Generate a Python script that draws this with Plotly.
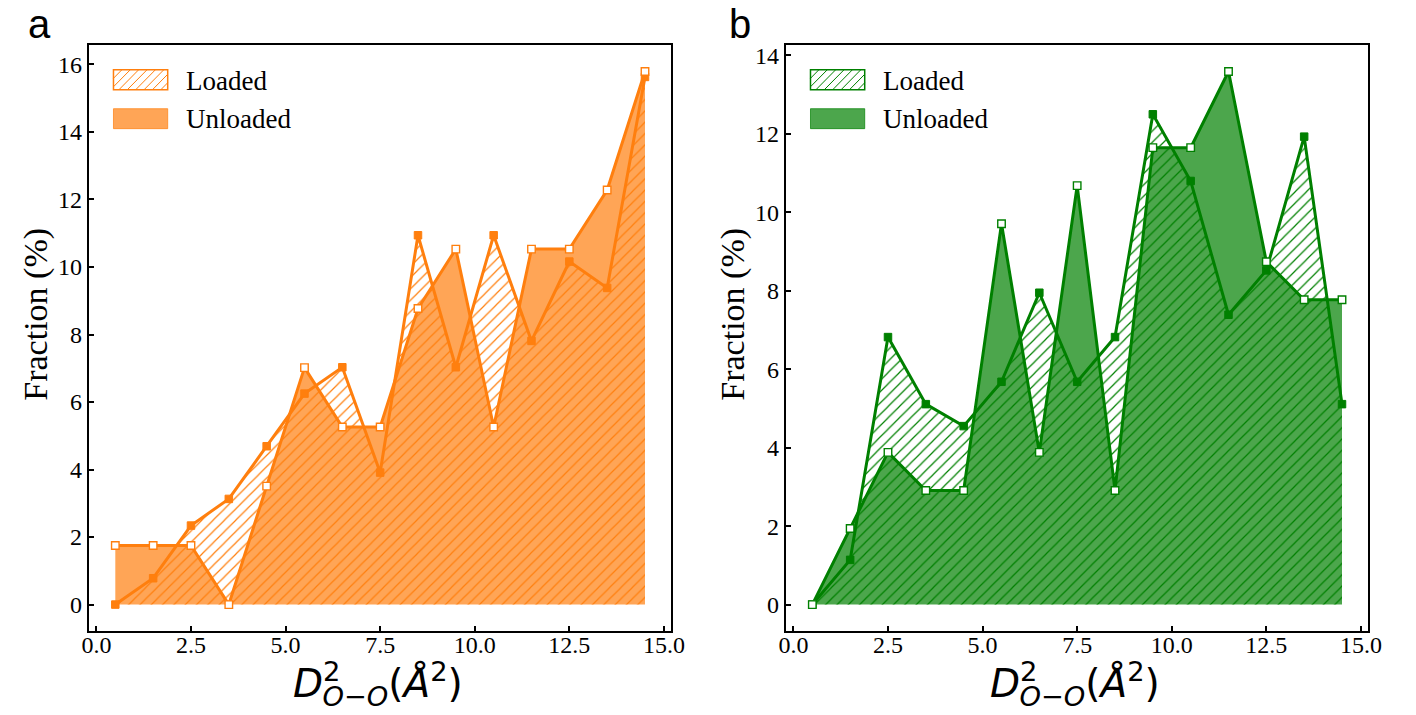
import plotly.graph_objects as go

W, H = 1416, 715

# ---------------- data ----------------
x_centers = [0.5, 1.5, 2.5, 3.5, 4.5, 5.5, 6.5, 7.5, 8.5, 9.5, 10.5, 11.5, 12.5, 13.5, 14.5]

a_loaded = [0.0, 0.78, 2.34, 3.13, 4.69, 6.25, 7.03, 3.91, 10.94, 7.03, 10.94, 7.81, 10.16, 9.38, 15.63]
a_unloaded = [1.75, 1.75, 1.75, 0.0, 3.51, 7.02, 5.26, 5.26, 8.77, 10.53, 5.26, 10.53, 10.53, 12.28, 15.79]

b_loaded = [0.0, 1.14, 6.82, 5.11, 4.55, 5.68, 7.95, 5.68, 6.82, 12.5, 10.8, 7.39, 8.52, 11.93, 5.11]
b_unloaded = [0.0, 1.94, 3.88, 2.91, 2.91, 9.71, 3.88, 10.68, 2.91, 11.65, 11.65, 13.59, 8.74, 7.77, 7.77]

series_names = ["Loaded", "Unloaded"]
panel_labels = ["a", "b"]
y_title = "Fraction (%)"
x_ticks = [0.0, 2.5, 5.0, 7.5, 10.0, 12.5, 15.0]

# ---------------- style ----------------
ORANGE = "#ff7f0e"
ORANGE_FILL = "rgba(255,127,14,0.70)"
GREEN = "#008000"
GREEN_FILL = "rgba(0,128,0,0.70)"
SERIF = "Liberation Serif"


def px(x):
    return x / W


def py(y):
    return 1 - y / H


fig = go.Figure()

panels = [
    dict(loaded=a_loaded, unloaded=a_unloaded, line=ORANGE, fill=ORANGE_FILL,
         xa="x", ya="y", left=83, right=674, label_x=33),
    dict(loaded=b_loaded, unloaded=b_unloaded, line=GREEN, fill=GREEN_FILL,
         xa="x2", ya="y2", left=790, right=1381, label_x=744),
]
TOP, BOTTOM = 43, 631

shapes = []
annotations = []

S = 39  # x-title font size
SUP = round(S * 0.7)
xlabel = ("<i>D</i><sup><span style='letter-spacing:-%dpx'>2</span></sup>"
          "<sub><i>O</i>−<i>O</i></sub>(<i>Å</i><sup>2</sup>)") % round(0.636 * SUP + 1)

for i, p in enumerate(panels):
    col = p["line"]
    # unloaded solid fill
    fig.add_trace(go.Scatter(x=x_centers, y=p["unloaded"], mode="lines", fill="tozeroy",
                             fillcolor=p["fill"], line=dict(width=0.5, color=p["fill"]),
                             xaxis=p["xa"], yaxis=p["ya"], hoverinfo="skip", showlegend=False))
    # loaded hatched fill
    fig.add_trace(go.Scatter(x=x_centers, y=p["loaded"], mode="lines", fill="tozeroy",
                             fillcolor="rgba(0,0,0,0)",
                             fillpattern=dict(shape="/", fgcolor=col, bgcolor="rgba(0,0,0,0)",
                                              size=8, solidity=0.15, fgopacity=1),
                             line=dict(width=0, color=col),
                             xaxis=p["xa"], yaxis=p["ya"], hoverinfo="skip", showlegend=False))
    # loaded line + filled squares
    fig.add_trace(go.Scatter(x=x_centers, y=p["loaded"], mode="lines+markers",
                             line=dict(color=col, width=3),
                             marker=dict(symbol="square", size=7.5, color=col,
                                         line=dict(color=col, width=1)),
                             xaxis=p["xa"], yaxis=p["ya"], name=series_names[0], showlegend=False))
    # unloaded line + open squares
    fig.add_trace(go.Scatter(x=x_centers, y=p["unloaded"], mode="lines+markers",
                             line=dict(color=col, width=3),
                             marker=dict(symbol="square", size=7.5, color="white",
                                         line=dict(color=col, width=1.4)),
                             xaxis=p["xa"], yaxis=p["ya"], name=series_names[1], showlegend=False))

    # ---- legend (custom) ----
    off = p["left"] - 83
    hx0, hx1, hy0, hy1 = 108 + off, 163 + off, 68, 88
    shapes.append(dict(type="rect", xref="paper", yref="paper",
                       x0=px(hx0), x1=px(hx1), y0=py(hy1), y1=py(hy0),
                       line=dict(color=col, width=1.5), fillcolor="rgba(0,0,0,0)"))
    # hatch lines clipped to the swatch
    step = 8.5
    hgt = hy1 - hy0
    k = hx0 - hgt
    while k < hx1:
        xa0, ya0 = k, hy1
        xa1, ya1 = k + hgt, hy0
        if xa0 < hx0:
            ya0 = hy1 - (hx0 - xa0)
            xa0 = hx0
        if xa1 > hx1:
            ya1 = hy0 + (xa1 - hx1)
            xa1 = hx1
        if xa1 > xa0:
            shapes.append(dict(type="line", xref="paper", yref="paper",
                               x0=px(xa0), y0=py(ya0), x1=px(xa1), y1=py(ya1),
                               line=dict(color=col, width=1)))
        k += step
    sy0, sy1 = 107, 127
    shapes.append(dict(type="rect", xref="paper", yref="paper",
                       x0=px(hx0), x1=px(hx1), y0=py(sy1), y1=py(sy0),
                       line=dict(color=p["fill"], width=1), fillcolor=p["fill"]))
    annotations.append(dict(text=series_names[0], xref="paper", yref="paper",
                            x=px(180 + off), y=py(79), xanchor="left", yanchor="middle",
                            showarrow=False, font=dict(family=SERIF, size=27, color="black")))
    annotations.append(dict(text=series_names[1], xref="paper", yref="paper",
                            x=px(180 + off), y=py(117), xanchor="left", yanchor="middle",
                            showarrow=False, font=dict(family=SERIF, size=27, color="black")))

    # panel label
    annotations.append(dict(text=panel_labels[i], xref="paper", yref="paper",
                            x=px(p["label_x"]), y=py(22), xanchor="center", yanchor="middle",
                            showarrow=False, font=dict(family="Liberation Sans", size=40, color="black")))
    # y title
    annotations.append(dict(text=y_title, xref="paper", yref="paper", textangle=-90,
                            x=px(p["left"] - 53), y=py(313), xanchor="center", yanchor="middle",
                            showarrow=False, font=dict(family=SERIF, size=34, color="black")))
    # x title: D^2_{O-O}(Å^2), superscript stacked over subscript
    cx = (p["left"] + p["right"]) / 2 - 2
    annotations.append(dict(text=xlabel, xref="paper", yref="paper", x=px(cx), y=py(684),
                            xanchor="center", yanchor="middle", showarrow=False,
                            font=dict(family="DejaVu Sans", size=S, color="black")))


def ax_range(vals_lists):
    lo = min(min(v) for v in vals_lists)
    hi = max(max(v) for v in vals_lists)
    m = 0.05 * (hi - lo)
    return [lo - m, hi + m]


xr = ax_range([x_centers])
common_x = dict(range=xr, tickvals=x_ticks, ticktext=[f"{t:.1f}" for t in x_ticks],
                ticks="inside", ticklen=5, tickwidth=1.5, tickcolor="black",
                showline=True, linecolor="black", linewidth=2, mirror=True,
                showgrid=False, zeroline=False, ticklabelstandoff=-9,
                tickfont=dict(family=SERIF, size=24, color="black"))
common_y = dict(dtick=2, tick0=0,
                ticks="inside", ticklen=5, tickwidth=1.5, tickcolor="black",
                showline=True, linecolor="black", linewidth=2, mirror=True,
                showgrid=False, zeroline=False,
                tickfont=dict(family=SERIF, size=24, color="black"))

ydom = [1 - BOTTOM / H, 1 - TOP / H]
fig.update_layout(
    width=W, height=H, margin=dict(l=0, r=0, t=0, b=0),
    paper_bgcolor="white", plot_bgcolor="white", showlegend=False,
    xaxis=dict(domain=[px(83), px(674)], anchor="y", **common_x),
    yaxis=dict(domain=ydom, anchor="x", range=ax_range([a_loaded, a_unloaded]), **common_y),
    xaxis2=dict(domain=[px(790), px(1381)], anchor="y2", **common_x),
    yaxis2=dict(domain=ydom, anchor="x2", range=ax_range([b_loaded, b_unloaded]), **common_y),
    shapes=shapes, annotations=annotations,
)

fig.write_html("out.html")
